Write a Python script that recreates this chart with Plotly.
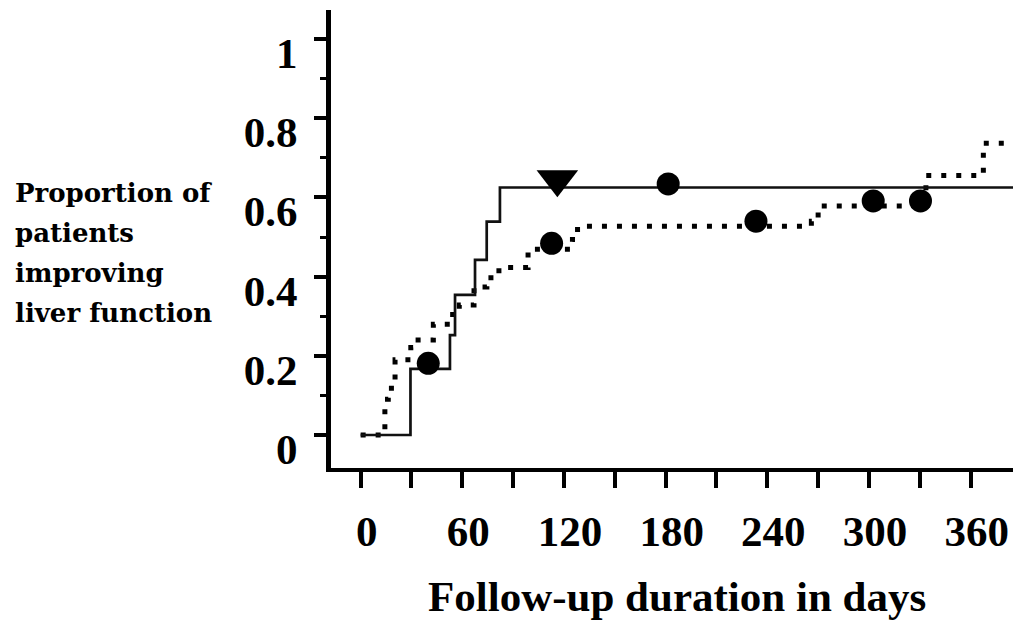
import plotly.graph_objects as go

# ---------------- data ----------------
solid_days = [0, 29.4, 52.7, 55.7, 67.5, 74.4, 82.2, 385]
solid_prop = [0, 0.167, 0.252, 0.354, 0.442, 0.539, 0.625, 0.625]
solid_censor_days = [39.9, 181.5]
solid_censor_prop = [0.181, 0.634]
solid_triangle_days = [116.1]
solid_triangle_prop = [0.646]

dotted_days = [0, 14.3, 16.3, 20.3, 29.6, 33.9, 42.9, 54.3, 58.2, 66.9, 74.5,
               81.6, 98.8, 125.0, 128.0, 266.0, 270.0, 333.6, 367.5, 380]
dotted_prop = [0, 0.09, 0.118, 0.19, 0.221, 0.24, 0.28, 0.311, 0.328, 0.374, 0.397,
               0.423, 0.469, 0.494, 0.527, 0.54, 0.578, 0.655, 0.737, 0.737]
dotted_censor_days = [112.7, 233.3, 302.5, 330.4]
dotted_censor_prop = [0.484, 0.540, 0.591, 0.591]

y_tickvals = [0, 0.2, 0.4, 0.6, 0.8, 1]
y_ticktext = ["0", "0.2", "0.4", "0.6", "0.8", "1"]
x_tickvals = [0, 60, 120, 180, 240, 300, 360]
x_ticktext = ["0", "60", "120", "180", "240", "300", "360"]

y_title_lines = ["Proportion of", "patients", "improving", "liver function"]
x_title = "Follow-up duration in days"

# ---------------- layout geometry ----------------
W, H = 1013, 620
L, R, T, B = 331, 1013, 10, 468


def px_to_paper_x(px):
    return (px - L) / (R - L)


def px_to_paper_y(py):
    return (B - py) / (B - T)


SERIF = "Liberation Serif"

fig = go.Figure()

fig.add_trace(go.Scatter(
    x=dotted_days, y=dotted_prop, mode="lines", line_shape="hv",
    line=dict(color="black", width=5, dash="5px,10px"), showlegend=False))
fig.add_trace(go.Scatter(
    x=solid_days, y=solid_prop, mode="lines", line_shape="hv",
    line=dict(color="#111111", width=2.7), showlegend=False))
fig.add_trace(go.Scatter(
    x=solid_censor_days + dotted_censor_days,
    y=solid_censor_prop + dotted_censor_prop,
    mode="markers", marker=dict(symbol="circle", size=23, color="black"),
    showlegend=False))
fig.add_trace(go.Scatter(
    x=solid_triangle_days, y=solid_triangle_prop, mode="markers",
    marker=dict(symbol="triangle-down", size=36, color="black"),
    showlegend=False))

annotations = []
line_centers = [193, 233, 273, 313]
for txt, cy in zip(y_title_lines, line_centers):
    annotations.append(dict(
        text=txt, xref="paper", yref="paper",
        x=px_to_paper_x(13), y=px_to_paper_y(cy),
        xanchor="left", yanchor="middle", showarrow=False,
        font=dict(family="DejaVu Serif", size=26, color="black", weight="bold")))

annotations.append(dict(
    text=x_title, xref="paper", yref="paper",
    x=px_to_paper_x(677), y=px_to_paper_y(596),
    xanchor="center", yanchor="middle", showarrow=False,
    font=dict(family=SERIF, size=43, color="black", weight="bold")))

fig.update_layout(
    width=W, height=H,
    margin=dict(l=L, r=W - R, t=T, b=H - B, pad=0),
    paper_bgcolor="white", plot_bgcolor="white",
    annotations=annotations,
    xaxis=dict(
        range=[-17.5, 385], tickvals=x_tickvals, ticktext=x_ticktext,
        ticks="outside", ticklen=16, tickwidth=4, tickcolor="black",
        minor=dict(ticks="outside", ticklen=16, tickwidth=4, tickcolor="black",
                   dtick=30, tick0=0, showgrid=False),
        showline=True, linewidth=4, linecolor="black",
        showgrid=False, zeroline=False, ticklabelshift=6, ticklabelstandoff=6,
        tickfont=dict(family=SERIF, size=43, color="black", weight="bold")),
    yaxis=dict(
        range=[-0.0833, 1.0732], tickvals=y_tickvals, ticktext=y_ticktext,
        ticks="outside", ticklen=12, tickwidth=4, tickcolor="black",
        minor=dict(ticks="outside", ticklen=6, tickwidth=3, tickcolor="black",
                   dtick=0.1, tick0=0, showgrid=False),
        showline=True, linewidth=5, linecolor="black",
        showgrid=False, zeroline=False, ticklabelshift=14, ticklabelstandoff=8,
        tickfont=dict(family=SERIF, size=43, color="black", weight="bold")),
)

fig.write_html("out.html")
